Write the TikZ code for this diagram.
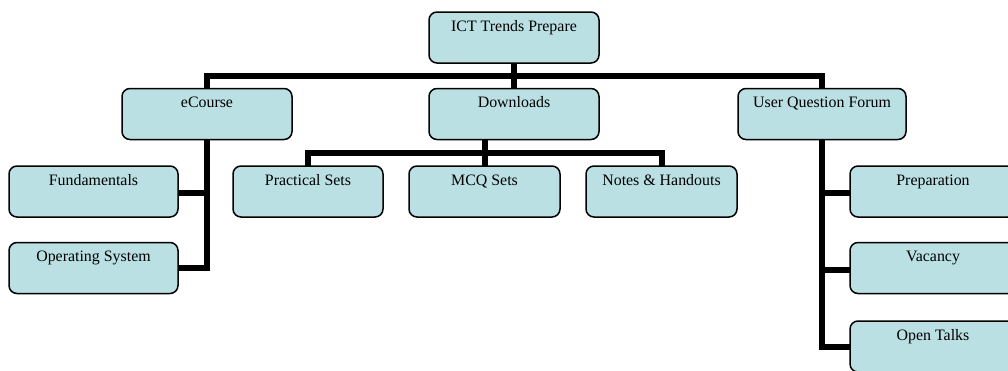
\documentclass[tikz,border=0pt]{standalone}
\usepackage{fontspec}
\setmainfont{Liberation Serif}
\definecolor{boxfill}{HTML}{BAE0E3}
\begin{document}
\begin{tikzpicture}[x=1pt,y=-1pt,
  box/.style={draw=black, line width=1.5pt, fill=boxfill, rounded corners=8pt,
    inner xsep=2pt, inner ysep=0pt, text height=19pt, text depth=32pt,
    font=\fontsize{15.9}{19}\selectfont},
  conn/.style={line width=6pt, draw=black, line join=miter}]
\useasboundingbox (0,0) rectangle (1008,370);
% connectors (drawn first, behind boxes)
\coordinate (rootS) at (514,63);
\coordinate (ecN) at (207,88.5);
\coordinate (uqN) at (822,88.5);
\coordinate (dlN) at (514,88.5);
\coordinate (dlS) at (485,139.5);
\coordinate (prN) at (308,166);
\coordinate (mqN) at (485,166);
\coordinate (ntN) at (662,166);
\coordinate (ecS) at (207,139.5);
\coordinate (uqS) at (822,139.5);
\coordinate (fdE) at (178,193);
\coordinate (osE) at (178,268);
\coordinate (ppW) at (850,193);
\coordinate (vcW) at (850,270);
\coordinate (otW) at (850,347);
\draw[conn] (rootS) -- (dlN);
\draw[conn] (ecN) -- ++(0,-12.5) -| (uqN);
\draw[conn] (dlS) -- (mqN);
\draw[conn] (prN) -- ++(0,-13) -| (ntN);
\draw[conn] (ecS) |- (osE);
\draw[conn] (fdE) -- (fdE -| ecS);
\draw[conn] (uqS) |- (otW);
\draw[conn] (ppW) -- (ppW -| uqS);
\draw[conn] (vcW) -- (vcW -| uqS);
% boxes
\node[box, minimum width=170pt] (root) at (514,37.5) {ICT Trends Prepare};
\node[box, minimum width=170pt] (ecourse) at (207,114) {eCourse};
\node[box, minimum width=170pt] (downloads) at (514,114) {Downloads};
\node[box, minimum width=168pt] (uqf) at (822,114) {User Question Forum};
\node[box, minimum width=169pt] (fund) at (93.5,191.5) {Fundamentals};
\node[box, minimum width=169pt] (os) at (93.5,268) {Operating System};
\node[box, minimum width=150pt] (practical) at (308,191.5) {Practical Sets};
\node[box, minimum width=151pt] (mcq) at (484.5,191.5) {MCQ Sets};
\node[box, minimum width=151pt] (notes) at (661.5,191.5) {Notes \& Handouts};
\node[box, minimum width=166pt] (prep) at (933,191.5) {Preparation};
\node[box, minimum width=166pt] (vac) at (933,268) {Vacancy};
\node[box, minimum width=166pt] (open) at (933,346.5) {Open Talks};
\end{tikzpicture}
\end{document}
